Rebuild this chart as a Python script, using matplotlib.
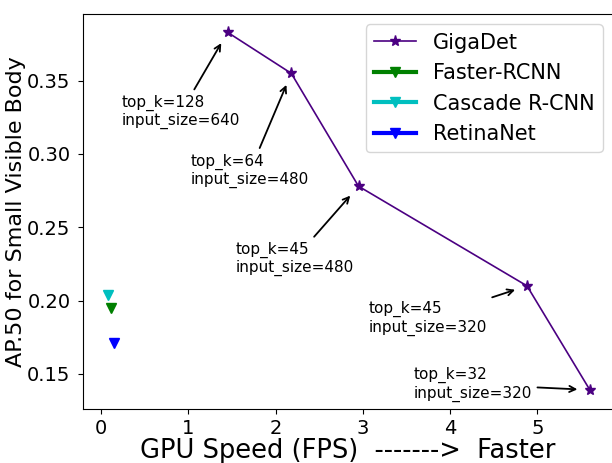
import matplotlib
matplotlib.use("Agg")
import matplotlib.pyplot as plt

# GigaDet trade-off curve
giga_fps = [1.45, 2.18, 2.95, 4.88, 5.60]
giga_ap = [0.383, 0.355, 0.278, 0.210, 0.139]
giga_labels = [
    "top_k=128\ninput_size=640",
    "top_k=64\ninput_size=480",
    "top_k=45\ninput_size=480",
    "top_k=45\ninput_size=320",
    "top_k=32\ninput_size=320",
]
# text anchor positions (data coords, top-left of text)
label_x = [0.24, 1.03, 1.54, 3.07, 3.58]
label_y = [0.3405, 0.3004, 0.2402, 0.1997, 0.1547]

# baselines
faster_fps, faster_ap = [0.11], [0.195]
cascade_fps, cascade_ap = [0.084], [0.204]
retina_fps, retina_ap = [0.149], [0.171]

fig = plt.figure(figsize=(6.12, 4.63), dpi=100)
ax = fig.add_axes([83/612, 1-409/463, (613-83)/612, (409-14)/463])

ax.plot(giga_fps, giga_ap, color="indigo", marker="*", markersize=8, linewidth=1.2, label="GigaDet")
ax.plot(faster_fps, faster_ap, color="green", marker="v", markersize=7.5, linewidth=3, label="Faster-RCNN")
ax.plot(cascade_fps, cascade_ap, color="c", marker="v", markersize=7.5, linewidth=3, label="Cascade R-CNN")
ax.plot(retina_fps, retina_ap, color="b", marker="v", markersize=7.5, linewidth=3, label="RetinaNet")

for x, y, t, tx, ty in zip(giga_fps, giga_ap, giga_labels, label_x, label_y):
    ax.annotate(t, xy=(x, y), xytext=(tx, ty), fontsize=11, ha="left", va="top",
                arrowprops=dict(arrowstyle="->", color="black", lw=1.3, shrinkA=2, shrinkB=9))

ax.set_xlim(-0.206, 5.865)
ax.set_ylim(0.126, 0.3955)
ax.set_xticks([0, 1, 2, 3, 4, 5])
ax.set_yticks([0.15, 0.20, 0.25, 0.30, 0.35])
ax.tick_params(labelsize=14)
ax.tick_params(axis="y", pad=5.5)
ax.set_xlabel("GPU Speed (FPS)  ------->  Faster", fontsize=18.5, labelpad=0)
ax.set_ylabel("AP.50 for Small Visible Body", fontsize=16, labelpad=1)
ax.legend(loc="upper right", fontsize=15)

fig.savefig("out.png", dpi=100)
